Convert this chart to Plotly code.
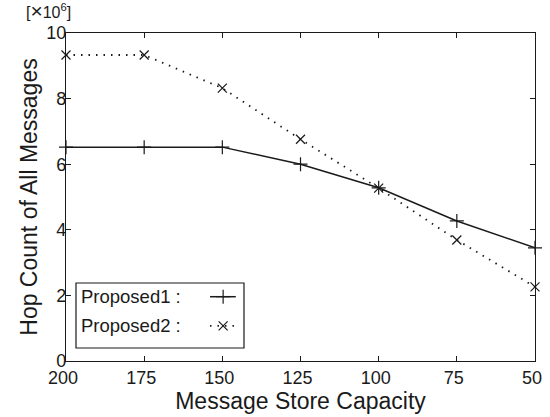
import plotly.graph_objects as go

capacity = [200, 175, 150, 125, 100, 75, 50]
proposed1 = [6.52, 6.52, 6.52, 6.0, 5.28, 4.27, 3.45]
proposed2 = [9.33, 9.33, 8.32, 6.76, 5.27, 3.69, 2.26]
y_ticks = [0, 2, 4, 6, 8, 10]
x_ticks = [200, 175, 150, 125, 100, 75, 50]
series_names = ["Proposed1 :", "Proposed2 :"]

FONT = "Liberation Sans, Arial, Helvetica, sans-serif"
INK = "#1a1a1a"

fig = go.Figure()
fig.add_trace(go.Scatter(
    x=capacity, y=proposed1, mode="lines+markers", cliponaxis=False,
    line=dict(color=INK, width=1.5),
    marker=dict(symbol="cross-thin", size=10, line=dict(color=INK, width=1.2)),
    showlegend=False))
fig.add_trace(go.Scatter(
    x=capacity, y=proposed2, mode="lines+markers", cliponaxis=False,
    line=dict(color=INK, width=1.8, dash="1.5px,6px"),
    marker=dict(symbol="x-thin", size=9, line=dict(color=INK, width=1.2)),
    showlegend=False))

# manual legend (text left, sample right) on an overlay axis
ly = [0.196, 0.107]
lx = [0.307, 0.335, 0.362]
fig.add_trace(go.Scatter(x=lx, y=[ly[0]] * 3, xaxis="x2", yaxis="y2",
    mode="lines", line=dict(color=INK, width=1.5), showlegend=False, hoverinfo="skip"))
fig.add_trace(go.Scatter(x=[lx[1]], y=[ly[0]], xaxis="x2", yaxis="y2", mode="markers",
    marker=dict(symbol="cross-thin", size=10, line=dict(color=INK, width=1.2)),
    showlegend=False, hoverinfo="skip"))
fig.add_trace(go.Scatter(x=lx, y=[ly[1]] * 3, xaxis="x2", yaxis="y2",
    mode="lines", line=dict(color=INK, width=1.8, dash="1.5px,6px"), showlegend=False, hoverinfo="skip"))
fig.add_trace(go.Scatter(x=[lx[1]], y=[ly[1]], xaxis="x2", yaxis="y2", mode="markers",
    marker=dict(symbol="x-thin", size=9, line=dict(color=INK, width=1.2)),
    showlegend=False, hoverinfo="skip"))

for name, yy in zip(series_names, ly):
    fig.add_annotation(x=0.030, y=yy, xref="x2", yref="y2", text=name, showarrow=False,
                       xanchor="left", yanchor="middle", borderpad=0,
                       font=dict(size=18.5, color=INK, family=FONT))

fig.add_shape(type="rect", xref="x2", yref="y2", x0=0.0213, x1=0.3795, y0=0.0396, y1=0.2378,
              line=dict(color=INK, width=1.2), fillcolor="white", layer="below")

fig.add_annotation(x=-0.087, y=1.0, xref="paper", yref="paper", yshift=10,
                   text="[<span style='font-size:21px'>×</span>10<sup>6</sup>]",
                   showarrow=False, xanchor="left", yanchor="bottom", borderpad=0,
                   font=dict(size=16, color=INK, family=FONT))

fig.update_layout(
    width=550, height=417,
    margin=dict(l=66, r=15, t=33, b=56, autoexpand=False),
    paper_bgcolor="white", plot_bgcolor="white",
    font=dict(family=FONT, color=INK),
    xaxis=dict(range=[200, 50], tickvals=x_ticks, ticks="inside", ticklen=5, tickcolor=INK,
               mirror="ticks", showline=True, linecolor=INK, linewidth=1.2, showgrid=False,
               zeroline=False, tickfont=dict(size=18, color=INK),
               title=dict(text="Message Store Capacity", font=dict(size=23, color=INK), standoff=0)),
    yaxis=dict(range=[0, 10], tickvals=y_ticks, ticks="inside", ticklen=5, tickcolor=INK,
               mirror="ticks", showline=True, linecolor=INK, linewidth=1.2, showgrid=False,
               zeroline=False, tickfont=dict(size=18, color=INK),
               title=dict(text="Hop Count of All Messages", font=dict(size=23, color=INK), standoff=2)),
    xaxis2=dict(domain=[0, 1], range=[0, 1], visible=False, overlaying="x", anchor="y2"),
    yaxis2=dict(domain=[0, 1], range=[0, 1], visible=False, overlaying="y", anchor="x2"),
)

try:
    fig.layout.xaxis.ticklabelshift = 3
except Exception:
    pass
try:
    fig.layout.yaxis.ticklabelstandoff = -5
except Exception:
    pass

fig.write_html("out.html", config={"displayModeBar": False},
               post_script="document.body.style.margin='0';")
